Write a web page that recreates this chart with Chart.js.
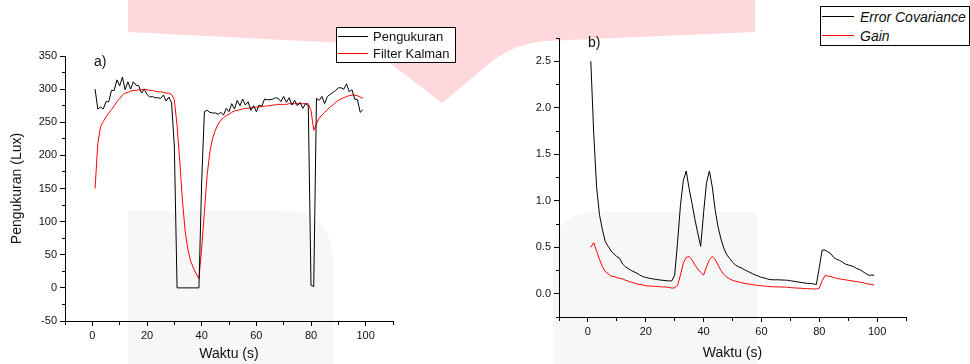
<!DOCTYPE html>
<html>
<head>
<meta charset="utf-8">
<script src="https://cdn.jsdelivr.net/npm/chart.js@4.4.1/dist/chart.umd.min.js"></script>
<style>
  html, body { margin: 0; padding: 0; background: #fff; }
  #page { position: relative; width: 970px; height: 364px; overflow: hidden;
          font-family: "Liberation Sans", Arial, sans-serif; color: #111; }
  #bg { position: absolute; left: 0; top: 0; }
  .panel { position: absolute; top: 0; width: 485px; height: 364px; }
  .panel canvas { display: block; }
  .tag { position: absolute; font-size: 14px; line-height: 17px; }
  .legend { position: absolute; box-sizing: border-box; background: #fff; border: 1px solid #000;
            overflow: hidden; white-space: nowrap; }
  .legend .row { display: flex; align-items: center; }
  .legend .swatch { display: inline-block; height: 0; border-top: 1px solid #000; margin-left: 1px; }
  #legendA { left: 336px; top: 27px; width: 120px; font-size: 13px; }
  #legendA .row { height: 17px; }
  #legendA .swatch { width: 30px; margin-right: 5px; }
  #legendB { left: 820px; top: 6px; width: 150px; font-size: 14px; font-style: italic; }
  #legendB .row { height: 19px; }
  #legendB .swatch { width: 32px; margin-right: 6px; }
</style>
</head>
<body>
<div id="page">
  <svg id="bg" width="970" height="364">
    <path d="M128,0 L755,0 L755,32 L545,41 C520,44 505,50 485,67 L442,103 L365,44 L128,32 Z" fill="#ffd8db"/>
    <path d="M128,364 V211 H285 Q333,211 333,265 V364 Z" fill="#f7f7f7"/>
    <path d="M553,364 V255 Q553,212 600,212 H757 V364 Z" fill="#f7f7f7"/>
  </svg>
  <div class="panel" style="left:0"><canvas id="chartA" width="485" height="364"></canvas></div>
  <div class="panel" style="left:485px"><canvas id="chartB" width="485" height="364"></canvas></div>
  <div class="tag" style="left:94px;top:53px">a)</div>
  <div class="tag" style="left:588px;top:34px">b)</div>
  <div class="legend" id="legendA"></div>
  <div class="legend" id="legendB"></div>
</div>

<script>
/* ── data: one sample per second ── */
const waktu = Array.from({ length: 99 }, (_, i) => i + 1);

const pengukuran = [
  300, 270, 273, 270, 281, 281, 298, 298, 314, 305,
  318, 299, 311, 300, 311, 306, 305, 294, 300, 292,
  288, 289, 287, 287, 286, 291, 282, 288, 279, 214,
  0, 0, 0, 0, 0, 0, 0, 0, 0, 160,
  266, 268, 265, 264, 264, 262, 265, 261, 271, 266,
  278, 270, 283, 275, 285, 276, 281, 268, 275, 266,
  276, 274, 285, 284, 284, 285, 287, 286, 281, 289,
  280, 287, 276, 283, 275, 280, 271, 278, 275, 4,
  2, 286, 283, 289, 278, 289, 292, 295, 298, 302,
  302, 300, 308, 296, 299, 285, 284, 265, 269
];

const filterKalman = [
  150, 218, 243, 251, 258, 264, 269, 275, 281, 286,
  291, 294, 295, 297, 298, 298, 299, 299, 300, 299,
  298, 298, 297, 296, 296, 295, 294, 294, 292, 284,
  245, 190, 130, 84, 57, 40, 30, 21, 14, 60,
  115, 170, 205, 226, 238, 247, 253, 257, 260, 262,
  265, 267, 268, 269, 270, 271, 271, 272, 272, 273,
  273, 274, 274, 275, 275, 276, 276, 277, 277, 277,
  277, 278, 278, 278, 278, 278, 278, 278, 278, 268,
  238, 248, 256, 261, 265, 269, 273, 276, 280, 283,
  285, 287, 289, 290, 291, 291, 290, 288, 286
];

const errorCovariance = [
  2.5, 1.73, 1.15, 0.85, 0.69, 0.56, 0.51, 0.46, 0.43, 0.4,
  0.38, 0.32, 0.29, 0.27, 0.25, 0.235, 0.22, 0.2, 0.185, 0.175,
  0.168, 0.162, 0.157, 0.152, 0.148, 0.144, 0.14, 0.138, 0.138, 0.2,
  0.55, 0.95, 1.22, 1.32, 1.13, 0.97, 0.8, 0.65, 0.51, 0.87,
  1.19, 1.32, 1.15, 0.9, 0.72, 0.59, 0.49, 0.42, 0.38, 0.34,
  0.31, 0.29, 0.28, 0.26, 0.245, 0.23, 0.215, 0.2, 0.19, 0.175,
  0.17, 0.16, 0.152, 0.15, 0.15, 0.15, 0.148, 0.147, 0.145, 0.14,
  0.135, 0.13, 0.125, 0.12, 0.115, 0.112, 0.11, 0.106, 0.1, 0.28,
  0.47, 0.47, 0.45, 0.43, 0.39, 0.37, 0.36, 0.34, 0.32, 0.31,
  0.3, 0.29, 0.27, 0.26, 0.24, 0.22, 0.2, 0.2, 0.2
];

const gain = [
  0.5, 0.55, 0.46, 0.37, 0.29, 0.24, 0.215, 0.19, 0.185, 0.175,
  0.165, 0.16, 0.145, 0.135, 0.125, 0.115, 0.105, 0.1, 0.095, 0.085,
  0.083, 0.082, 0.08, 0.078, 0.075, 0.073, 0.072, 0.07, 0.06, 0.065,
  0.09, 0.2, 0.33, 0.39, 0.4, 0.365, 0.31, 0.265, 0.23, 0.2,
  0.29, 0.365, 0.4, 0.37, 0.31, 0.25, 0.21, 0.18, 0.16, 0.145,
  0.135, 0.128, 0.12, 0.113, 0.107, 0.103, 0.097, 0.093, 0.09, 0.086,
  0.083, 0.08, 0.077, 0.075, 0.074, 0.073, 0.072, 0.071, 0.07, 0.066,
  0.064, 0.062, 0.06, 0.058, 0.056, 0.055, 0.053, 0.052, 0.05, 0.06,
  0.14, 0.195, 0.19, 0.185, 0.175, 0.165, 0.16, 0.155, 0.15, 0.145,
  0.14, 0.135, 0.13, 0.125, 0.12, 0.11, 0.105, 0.1, 0.093
];

Chart.defaults.font.family = '"Liberation Sans", Arial, sans-serif';
Chart.defaults.color = '#111';

const toPoints = ys => ys.map((y, i) => ({ x: waktu[i], y }));

function series(label, ys, color) {
  return { label, data: toPoints(ys), borderColor: color, borderWidth: 1,
           pointRadius: 0, tension: 0, fill: false };
}

/* ── Origin-style axes: outward ticks, short minor ticks, no grid ── */
const tickDashX = ctx => (ctx.tick && Math.round(ctx.tick.value) % 20 === 0) ? [] : [3, 10];

function axisX(height, titlePad) {
  return {
    type: 'linear', min: -10, max: 110,
    border: { display: true, color: '#000', width: 1 },
    grid: { drawOnChartArea: false, tickLength: 5, tickColor: '#000', tickBorderDash: tickDashX },
    ticks: { stepSize: 10, autoSkip: false, maxRotation: 0, padding: 3, font: { size: 11 },
             callback: v => Math.round(v) % 20 === 0 ? v : '' },
    title: { display: true, text: 'Waktu (s)', font: { size: 14 }, padding: { top: 0, bottom: titlePad } },
    afterFit: s => { s.height = height; }
  };
}

function axisY(opts) {
  const { min, max, step, isMajor, label, width, title } = opts;
  return {
    min, max,
    border: { display: true, color: '#000', width: 1 },
    grid: {
      drawOnChartArea: false, tickLength: 5, tickColor: '#000',
      tickBorderDash: ctx => (ctx.tick && isMajor(ctx.tick.value)) ? [] : [3, 2],
      tickBorderDashOffset: ctx => (ctx.tick && isMajor(ctx.tick.value)) ? 0 : 3
    },
    ticks: { stepSize: step, autoSkip: false, padding: 3, font: { size: 11 },
             callback: v => isMajor(v) ? label(v) : '' },
    title: title ? { display: true, text: title, font: { size: 14 }, padding: { top: 9, bottom: 0 } } : { display: false },
    afterFit: s => { s.width = width; }
  };
}

const baseOptions = {
  responsive: false,
  animation: false,
  plugins: { legend: { display: false }, tooltip: { enabled: false } }
};

function buildLegend(id, chart) {
  const box = document.getElementById(id);
  chart.data.datasets.forEach(ds => {
    const row = document.createElement('div');
    row.className = 'row';
    const sw = document.createElement('span');
    sw.className = 'swatch';
    sw.style.borderTopColor = ds.borderColor;
    row.appendChild(sw);
    row.appendChild(document.createTextNode(ds.label));
    box.appendChild(row);
  });
}

/* ── a) measurement vs Kalman estimate ── */
const chartA = new Chart(document.getElementById('chartA'), {
  type: 'line',
  data: {
    datasets: [
      series('Pengukuran', pengukuran, '#000000'),
      series('Filter Kalman', filterKalman, '#ff0000')
    ]
  },
  options: {
    ...baseOptions,
    layout: { padding: { left: 0, top: 56, right: 92, bottom: 0 } },
    scales: {
      x: axisX(43, 1),
      y: axisY({ min: -50, max: 350, step: 25, width: 65, title: 'Pengukuran (Lux)',
                 isMajor: v => Math.round(v) % 50 === 0, label: v => v })
    }
  }
});

/* ── b) error covariance and Kalman gain ── */
const chartB = new Chart(document.getElementById('chartB'), {
  type: 'line',
  data: {
    datasets: [
      series('Error Covariance', errorCovariance, '#000000'),
      series('Gain', gain, '#ff0000')
    ]
  },
  options: {
    ...baseOptions,
    layout: { padding: { left: 0, top: 38, right: 64, bottom: 0 } },
    scales: {
      x: axisX(47, 2),
      y: axisY({ min: -0.25, max: 2.75, step: 0.25, width: 74,
                 isMajor: v => Math.round(v * 4) % 2 === 0, label: v => v.toFixed(1) })
    }
  }
});

buildLegend('legendA', chartA);
buildLegend('legendB', chartB);
</script>
</body>
</html>
